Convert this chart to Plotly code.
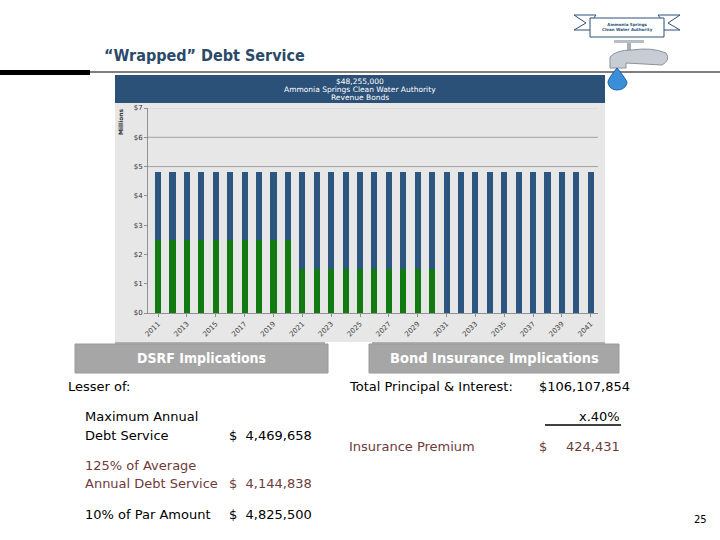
import plotly.graph_objects as go

years = [str(y) for y in range(2011, 2042)]
wrapped_base = [2.5, 2.5, 2.5, 2.5, 2.5, 2.5, 2.5, 2.5, 2.5, 2.5,
                1.5, 1.5, 1.5, 1.5, 1.5, 1.5, 1.5, 1.5, 1.5, 1.5,
                0, 0, 0, 0, 0, 0, 0, 0, 0, 0, 0]
new_bonds = [2.3, 2.3, 2.3, 2.3, 2.3, 2.3, 2.3, 2.3, 2.3, 2.3,
             3.3, 3.3, 3.3, 3.3, 3.3, 3.3, 3.3, 3.3, 3.3, 3.3,
             4.8, 4.8, 4.8, 4.8, 4.8, 4.8, 4.8, 4.8, 4.8, 4.8, 4.8]
y_ticks = [0, 1, 2, 3, 4, 5, 6, 7]
y_tick_labels = ["$0", "$1", "$2", "$3", "$4", "$5", "$6", "$7"]
x_tick_labels = [str(y) for y in range(2011, 2042, 2)]
grid_values = [5, 6, 7]

GREEN = "#117A11"
BLUE = "#2C5580"
BANNER = "#2B5178"
W, H = 720, 540
FONT = "DejaVu Sans"


def px(x):
    return x / W


def py(y):
    return 1 - y / H


fig = go.Figure()
fig.add_trace(go.Bar(x=years, y=wrapped_base, marker_color=GREEN, marker_line_width=0, name="Existing"))
fig.add_trace(go.Bar(x=years, y=new_bonds, marker_color=BLUE, marker_line_width=0, name="Series"))

shapes = []
# chart background
shapes.append(dict(type="rect", xref="paper", yref="paper", x0=px(115), x1=px(605), y0=py(342), y1=py(103),
                   fillcolor="#E7E7E7", line_width=0, layer="below"))
# chart banner
shapes.append(dict(type="rect", xref="paper", yref="paper", x0=px(115), x1=px(605), y0=py(103), y1=py(75),
                   fillcolor=BANNER, line_width=0, layer="below"))
# gridlines
for g in grid_values:
    shapes.append(dict(type="line", xref="paper", yref="y", x0=px(148), x1=px(598), y0=g, y1=g,
                       line=dict(color="#A0A0A0" if g < 7 else "#D0D0D0", width=1), layer="below"))
# header lines
shapes.append(dict(type="rect", xref="paper", yref="paper", x0=0, x1=px(90), y0=py(75), y1=py(70),
                   fillcolor="black", line_width=0))
shapes.append(dict(type="line", xref="paper", yref="paper", x0=px(90), x1=1, y0=py(72), y1=py(72),
                   line=dict(color="black", width=1)))
# bottom grey line under chart
shapes.append(dict(type="line", xref="paper", yref="paper", x0=px(115), x1=px(325), y0=py(343), y1=py(343),
                   line=dict(color="#B0B0B0", width=2)))
shapes.append(dict(type="line", xref="paper", yref="paper", x0=px(372), x1=px(605), y0=py(343), y1=py(343),
                   line=dict(color="#B0B0B0", width=2)))
# grey boxes
for x0, x1 in [(75, 328), (369, 619)]:
    shapes.append(dict(type="rect", xref="paper", yref="paper", x0=px(x0), x1=px(x1), y0=py(373), y1=py(344),
                       fillcolor="#A6A6A6", line=dict(color="#9A9A9A", width=1)))
# underline for x.40%
shapes.append(dict(type="line", xref="paper", yref="paper", x0=px(545), x1=px(621), y0=py(425), y1=py(425),
                   line=dict(color="black", width=1.5)))
# logo ribbon
shapes.append(dict(type="path", xref="paper", yref="paper",
                   path=f"M {px(574)} {py(15)} L {px(596)} {py(15)} L {px(590)} {py(23)} L {px(596)} {py(30)} L {px(574)} {py(30)} L {px(586)} {py(23)} Z",
                   fillcolor="white", line=dict(color=BANNER, width=1)))
shapes.append(dict(type="path", xref="paper", yref="paper",
                   path=f"M {px(680)} {py(15)} L {px(658)} {py(15)} L {px(664)} {py(23)} L {px(658)} {py(30)} L {px(680)} {py(30)} L {px(668)} {py(23)} Z",
                   fillcolor="white", line=dict(color=BANNER, width=1)))
shapes.append(dict(type="rect", xref="paper", yref="paper", x0=px(590), x1=px(664), y0=py(37), y1=py(18),
                   fillcolor="white", line=dict(color=BANNER, width=1)))
# faucet
shapes.append(dict(type="rect", xref="paper", yref="paper", x0=px(614), x1=px(644), y0=py(43), y1=py(40),
                   fillcolor="#B8BEC8", line_width=0))
shapes.append(dict(type="rect", xref="paper", yref="paper", x0=px(627), x1=px(631), y0=py(50), y1=py(43),
                   fillcolor="#A8AEB8", line_width=0))
shapes.append(dict(type="path", xref="paper", yref="paper",
                   path=f"M {px(610)} {py(68)} L {px(610)} {py(57)} Q {px(616)} {py(50)} {px(632)} {py(50)} Q {px(652)} {py(47)} {px(666)} {py(53)} Q {px(671)} {py(60)} {px(662)} {py(65)} L {px(626)} {py(63)} L {px(626)} {py(68)} Z",
                   fillcolor="#C8CDD5", line=dict(color="#8A929E", width=1)))
shapes.append(dict(type="path", xref="paper", yref="paper",
                   path=f"M {px(617)} {py(68)} Q {px(607)} {py(80)} {px(608)} {py(83)} Q {px(610)} {py(90)} {px(617)} {py(90)} Q {px(625)} {py(90)} {px(627)} {py(83)} Q {px(627)} {py(80)} {px(617)} {py(68)} Z",
                   fillcolor="#3A8FD8", line=dict(color="#1E5FA8", width=1)))

annotations = []


def txt(x, y, s, size=13, color="black", anchor="left", bold=False, family=FONT):
    if bold:
        s = f"<b>{s}</b>"
    annotations.append(dict(x=px(x), y=py(y), xref="paper", yref="paper", text=s, showarrow=False,
                            xanchor=anchor, yanchor="middle", borderpad=0,
                            font=dict(size=size, color=color, family=family)))


txt(103, 55, "“Wrapped” Debt Service", size=16, color="#2B4A6B", bold=True, family="DejaVu Sans Condensed")
txt(360, 81, "$48,255,000", size=7.5, color="white", anchor="center")
txt(360, 89.5, "Ammonia Springs Clean Water Authority", size=7.5, color="white", anchor="center")
txt(360, 98, "Revenue Bonds", size=7.5, color="white", anchor="center")
annotations.append(dict(x=px(121), y=py(122), xref="paper", yref="paper", text="<b>Millions</b>", showarrow=False,
                        textangle=-90, xanchor="center", yanchor="middle",
                        font=dict(size=6, color="#333333", family="DejaVu Sans")))
txt(627, 27, "<b>Ammonia Springs<br>Clean Water Authority</b>", size=4, color=BANNER, anchor="center")

txt(201, 358, "DSRF Implications", size=14, color="white", anchor="center", bold=True,
    family="DejaVu Sans Condensed")
txt(494, 358, "Bond Insurance Implications", size=14.5, color="white", anchor="center", bold=True,
    family="DejaVu Sans Condensed")

BROWN = "#6E3B3B"
txt(67, 386, "Lesser of:")
txt(84, 416, "Maximum Annual")
txt(84, 435, "Debt Service")
txt(228, 435, "$  4,469,658")
txt(84, 465, "125% of Average", color=BROWN)
txt(84, 483, "Annual Debt Service", color=BROWN)
txt(228, 483, "$  4,144,838", color=BROWN)
txt(84, 514, "10% of Par Amount")
txt(228, 514, "$  4,825,500")

txt(348, 386, "Total Principal & Interest:")
txt(538, 386, "$106,107,854")
txt(621, 416, "x.40%", anchor="right")
txt(348, 446, "Insurance Premium", color=BROWN)
txt(538, 446, "$", color=BROWN)
txt(621, 446, "424,431", color=BROWN, anchor="right")
txt(700, 519, "25", size=10, anchor="center")

fig.update_layout(
    template="none",
    width=W, height=H,
    autosize=False,
    margin=dict(l=0, r=0, t=0, b=0, pad=0, autoexpand=False),
    paper_bgcolor="white",
    plot_bgcolor="rgba(0,0,0,0)",
    barmode="stack",
    bargap=0.58,
    showlegend=False,
    shapes=shapes,
    annotations=annotations,
    xaxis=dict(domain=[px(148), px(598)], type="category", range=[-0.7, 30.5], tickmode="array",
               tickvals=x_tick_labels, ticktext=x_tick_labels, tickangle=-45,
               tickfont=dict(size=7, color="#444444", family="DejaVu Sans"),
               showline=True, linecolor="#909090", linewidth=1, ticks="outside", ticklen=3, tickcolor="#909090",
               showgrid=False, fixedrange=True, automargin=False),
    yaxis=dict(domain=[1 - 313 / H, 1 - 108 / H], range=[0, 7], tickvals=y_ticks, ticktext=y_tick_labels,
               tickfont=dict(size=7, color="#333333", family="DejaVu Sans"), showline=True, linecolor="#909090",
               linewidth=1, showgrid=False, zeroline=False, ticks="outside", ticklen=3, tickcolor="#909090",
               fixedrange=True, automargin=False),
)

fig.write_html("out.html", config={"displayModeBar": False},
               post_script="document.body.style.margin='0';document.body.style.overflow='hidden';")
